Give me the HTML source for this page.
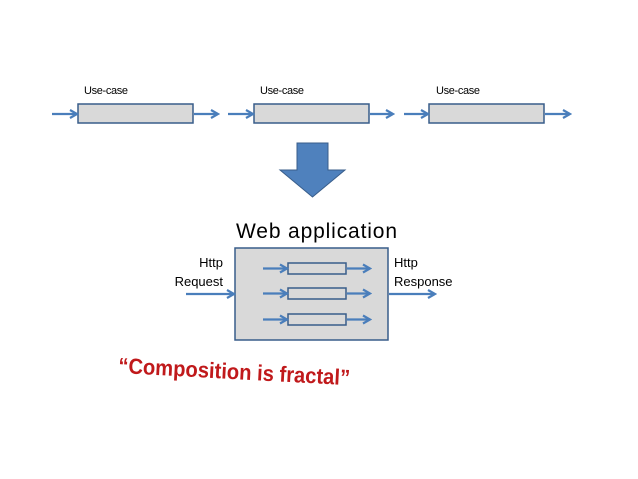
<!DOCTYPE html>
<html><head><style>
html,body{margin:0;padding:0;background:#fff;}
svg{display:block;}
</style></head><body>
<svg width="638" height="479" viewBox="0 0 638 479" xmlns="http://www.w3.org/2000/svg">
<defs>
<marker id="a" markerWidth="10" markerHeight="10" refX="8" refY="5" orient="auto" markerUnits="userSpaceOnUse">
<path d="M1,1 L8,5 L1,9" fill="none" stroke="#4a7ebb" stroke-width="2.2"/>
</marker>
</defs>
<g font-family="Liberation Sans, sans-serif" font-size="11" fill="#000">
<text x="84" y="94" textLength="44">Use-case</text>
<text x="260" y="94" textLength="44">Use-case</text>
<text x="436" y="94" textLength="44">Use-case</text>
</g>
<g fill="#d9d9d9" stroke="#385d8a" stroke-width="1.5">
<rect x="78" y="104" width="115" height="19"/>
<rect x="254" y="104" width="115" height="19"/>
<rect x="429" y="104" width="115" height="19"/>
</g>
<g stroke="#4a7ebb" stroke-width="2.2" marker-end="url(#a)">
<line x1="52" y1="114" x2="77" y2="114"/>
<line x1="194" y1="114" x2="218" y2="114"/>
<line x1="228" y1="114" x2="253" y2="114"/>
<line x1="370" y1="114" x2="393" y2="114"/>
<line x1="404" y1="114" x2="428" y2="114"/>
<line x1="545" y1="114" x2="570" y2="114"/>
</g>
<path d="M297,143 H328 V170 H345 L312.5,197 L280,170 H297 Z" fill="#4f81bd" stroke="#385d8a" stroke-width="1"/>
<text x="236" y="238" textLength="161" font-family="Liberation Sans, sans-serif" font-size="21">Web application</text>
<rect x="235" y="248" width="153" height="92" fill="#d9d9d9" stroke="#385d8a" stroke-width="1.5"/>
<g fill="#d9d9d9" stroke="#385d8a" stroke-width="1.5">
<rect x="288" y="263" width="58" height="11"/>
<rect x="288" y="288" width="58" height="11"/>
<rect x="288" y="314" width="58" height="11"/>
</g>
<g stroke="#4a7ebb" stroke-width="2.2" marker-end="url(#a)">
<line x1="263" y1="268.5" x2="287" y2="268.5"/>
<line x1="347" y1="268.5" x2="370" y2="268.5"/>
<line x1="263" y1="293.5" x2="287" y2="293.5"/>
<line x1="347" y1="293.5" x2="370" y2="293.5"/>
<line x1="263" y1="319.5" x2="287" y2="319.5"/>
<line x1="347" y1="319.5" x2="370" y2="319.5"/>
<line x1="186" y1="294" x2="234" y2="294"/>
<line x1="389" y1="294" x2="435" y2="294"/>
</g>
<g font-family="Liberation Sans, sans-serif" font-size="13">
<text x="223" y="267" text-anchor="end">Http</text>
<text x="223" y="286" text-anchor="end">Request</text>
<text x="394" y="267">Http</text>
<text x="394" y="286">Response</text>
</g>
<text x="118" y="373" transform="rotate(3 118 373)" font-family="Liberation Sans Narrow, Liberation Sans, sans-serif" font-size="22" font-weight="bold" fill="#c0191b" textLength="232" lengthAdjust="spacingAndGlyphs">“Composition is fractal”</text>
</svg>
</body></html>
